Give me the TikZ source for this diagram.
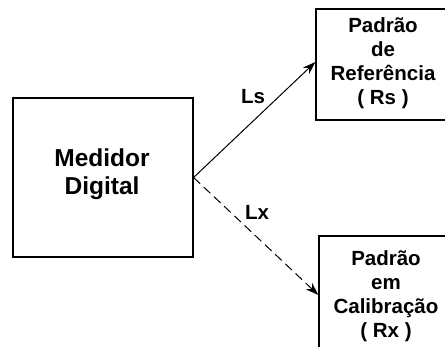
\documentclass[tikz,border=0pt]{standalone}
\usepackage{fontspec}
\setmainfont{Liberation Sans}
\usetikzlibrary{arrows.meta}
\begin{document}
\begin{tikzpicture}[x=1pt,y=-1pt,
  box/.style={draw,line width=1.2pt,inner sep=0pt},
  big/.style={font=\fontsize{24.5}{28}\selectfont\bfseries,align=center},
  small/.style={font=\fontsize{20.5}{24}\selectfont\bfseries,align=center},
  conn/.style={line width=1pt,-{Stealth[length=13pt,width=9pt]}}]
\clip (0,0) rectangle (445,347);
\fill[white] (0,0) rectangle (445,347);
\node[box,minimum width=180pt,minimum height=159pt] (med) at (103,177.5) {};
\node[big] (medt) at (102,174) {Medidor\\Digital};
\node[box,minimum width=150pt,minimum height=111pt] (rs) at (391,64.5) {};
\node[small] (rst) at (383,63) {Padrão\\de\\Referência\\( Rs )};
\node[box,minimum width=150pt,minimum height=118pt] (rx) at (394,295) {};
\node[small] (rxt) at (386,296) {Padrão\\em\\Calibração\\( Rx )};
\draw[conn] (med.east) -- ([yshift=2.5pt]rs.west);
\draw[conn,dash pattern=on 9pt off 5pt] (med.east) -- (rx.west);
\node[small] (ls) at (253,97) {Ls};
\node[small] (lx) at (257,212) {Lx};
\end{tikzpicture}
\end{document}
